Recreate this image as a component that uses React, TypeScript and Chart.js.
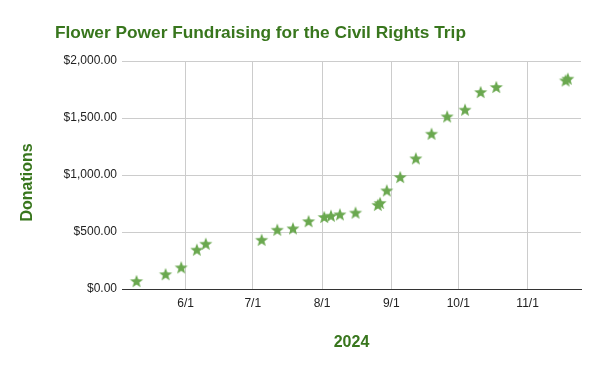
import React, { useEffect, useRef } from "react";
import { Chart, registerables } from "chart.js";

Chart.register(...registerables);

const TITLE = "Flower Power Fundraising for the Civil Rights Trip";
const X_TITLE = "2024";
const Y_TITLE = "Donations";

const donationDates = [
  "2024-05-10", "2024-05-23", "2024-05-30", "2024-06-06", "2024-06-10",
  "2024-07-05", "2024-07-12", "2024-07-19", "2024-07-26", "2024-08-02",
  "2024-08-05", "2024-08-09", "2024-08-16", "2024-08-26", "2024-08-27",
  "2024-08-30", "2024-09-05", "2024-09-12", "2024-09-19", "2024-09-26",
  "2024-10-04", "2024-10-11", "2024-10-18", "2024-11-18", "2024-11-19",
];
const donationTotals = [
  70, 130, 190, 345, 397,
  432, 520, 532, 595, 632,
  643, 655, 670, 738, 755,
  865, 982, 1146, 1362, 1514,
  1573, 1728, 1772, 1830, 1845,
];
const xTickDates = ["2024-06-01", "2024-07-01", "2024-08-01", "2024-09-01", "2024-10-01", "2024-11-01"];
const xTickLabels = ["6/1", "7/1", "8/1", "9/1", "10/1", "11/1"];
const yTicks = [0, 500, 1000, 1500, 2000];

const GREEN_DARK = "#38761d";
const GREEN_STAR = "#6aa84f";
const FONT = "'Liberation Sans', Arial, sans-serif";

function dayOf(s: string): number {
  const [y, m, d] = s.split("-").map(Number);
  return (Date.UTC(y, m - 1, d) - Date.UTC(y, 0, 1)) / 86400000;
}

const X_MIN = dayOf("2024-05-03") + 0.5;
const X_MAX = dayOf("2024-11-24") + 0.9;

function makeStar(): HTMLCanvasElement {
  const size = 16;
  const c = document.createElement("canvas");
  c.width = size;
  c.height = size;
  const ctx = c.getContext("2d")!;
  const cx = size / 2;
  const cy = size / 2 + 0.6;
  const R = 6.9;
  const r = R * 0.42;
  ctx.beginPath();
  for (let i = 0; i < 10; i++) {
    const rad = i % 2 === 0 ? R : r;
    const a = -Math.PI / 2 + (i * Math.PI) / 5;
    const px = cx + rad * Math.cos(a);
    const py = cy + rad * Math.sin(a);
    if (i === 0) ctx.moveTo(px, py);
    else ctx.lineTo(px, py);
  }
  ctx.closePath();
  ctx.fillStyle = GREEN_STAR;
  ctx.fill();
  return c;
}

const moneyFmt = new Intl.NumberFormat("en-US", { minimumFractionDigits: 2, maximumFractionDigits: 2 });

export default function App() {
  const ref = useRef<HTMLCanvasElement | null>(null);

  useEffect(() => {
    document.body.style.margin = "0";
    const canvas = ref.current;
    if (!canvas) return;
    const star = makeStar();
    const tickValues = xTickDates.map(dayOf);

    const textPlugin = {
      id: "texts",
      afterDraw(chart: any) {
        const { ctx, chartArea } = chart;
        ctx.save();
        ctx.fillStyle = GREEN_DARK;
        ctx.font = `bold 17.3px ${FONT}`;
        ctx.textAlign = "left";
        ctx.textBaseline = "alphabetic";
        ctx.fillText(TITLE, chartArea.left - 67, chartArea.top - 23.5);

        ctx.font = `bold 16px ${FONT}`;
        ctx.textAlign = "center";
        ctx.textBaseline = "middle";
        ctx.fillText(X_TITLE, (chartArea.left + chartArea.right) / 2, chartArea.bottom + 53.5);

        ctx.translate(chartArea.left - 94, (chartArea.top + chartArea.bottom) / 2 + 7.5);
        ctx.rotate(-Math.PI / 2);
        ctx.fillText(Y_TITLE, 0, 0);
        ctx.restore();
      },
    };

    const chart = new Chart(canvas, {
      type: "scatter",
      data: {
        datasets: [
          {
            label: "Donations",
            data: donationDates.map((d, i) => ({ x: dayOf(d), y: donationTotals[i] })),
            pointStyle: star as any,
            pointRadius: 8,
            pointHoverRadius: 8,
            backgroundColor: GREEN_STAR,
            borderColor: GREEN_STAR,
          },
        ],
      },
      options: {
        responsive: false,
        animation: false,
        layout: { padding: { top: 61, right: 19, left: 0, bottom: 0 } },
        plugins: {
          legend: { display: false },
          tooltip: { enabled: false },
          title: { display: false },
        },
        scales: {
          x: {
            type: "linear",
            min: X_MIN,
            max: X_MAX,
            afterFit(scale: any) {
              scale.height = 82;
            },
            afterBuildTicks(scale: any) {
              scale.ticks = tickValues.map((v) => ({ value: v }));
            },
            ticks: {
              autoSkip: false,
              maxRotation: 0,
              padding: 7,
              color: "#222",
              font: { family: FONT, size: 12 },
              callback: (v: any) => {
                const idx = tickValues.indexOf(Number(v));
                return idx >= 0 ? xTickLabels[idx] : "";
              },
            },
            grid: { color: "#cccccc", drawTicks: false, lineWidth: 1 },
            border: { display: true, color: "#333333", width: 1 },
          },
          y: {
            type: "linear",
            min: yTicks[0],
            max: yTicks[yTicks.length - 1],
            afterFit(scale: any) {
              scale.width = 122;
            },
            afterBuildTicks(scale: any) {
              scale.ticks = yTicks.map((v) => ({ value: v }));
            },
            ticks: {
              padding: 5,
              color: "#222",
              font: { family: FONT, size: 12 },
              callback: (v: any) => "$" + moneyFmt.format(Number(v)),
            },
            grid: { color: "#cccccc", drawTicks: false, lineWidth: 1 },
            border: { display: false },
          },
        },
      },
      plugins: [textPlugin],
    });

    return () => chart.destroy();
  }, []);

  return (
    <div style={{ width: 600, height: 371 }}>
      <canvas ref={ref} width={600} height={371} style={{ display: "block" }} />
    </div>
  );
}
